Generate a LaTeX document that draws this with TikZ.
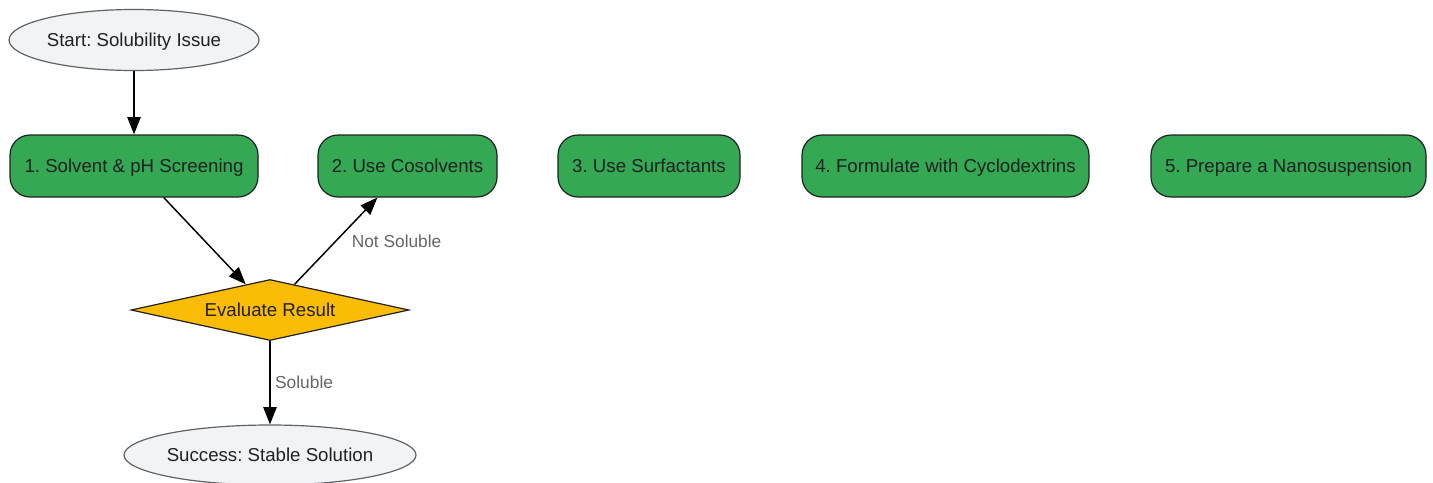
\documentclass[tikz,border=0pt]{standalone}
\usepackage{fontspec}
\setmainfont{Liberation Sans}
\usetikzlibrary{arrows.meta,shapes.geometric}
\frenchspacing

\definecolor{stepgreen}{HTML}{34A853}
\definecolor{checkyellow}{HTML}{FBBC05}
\definecolor{termfill}{HTML}{F1F3F4}
\definecolor{termline}{HTML}{5F6368}
\definecolor{inkdark}{HTML}{202124}
\definecolor{labelgray}{HTML}{666666}

\begin{document}
\begin{tikzpicture}[x=0.75pt,y=-0.75pt,>={Triangle[length=13pt,width=10pt]},
    every node/.style={font=\fontsize{14}{16}\selectfont,text=inkdark,text height=10pt,text depth=0pt},
    term/.style={ellipse,draw=termline,fill=termfill,line width=0.9pt,inner sep=0pt},
    stepbox/.style={rectangle,rounded corners=15pt,draw=inkdark,fill=stepgreen,
      line width=0.9pt,minimum height=46.5pt,inner sep=0pt},
    check/.style={diamond,aspect=4.56,draw=inkdark,fill=checkyellow,line width=0.9pt,inner sep=0pt,
      minimum width=208.5pt,minimum height=45.75pt},
    lbl/.style={font=\fontsize{13}{15}\selectfont,text=labelgray,text height=9.3pt},
    link/.style={->,line width=1.1pt}]
      \useasboundingbox (0,0) rectangle (1433,482);

      \node[term,minimum width=187.5pt,minimum height=45.75pt] (start) at (134,40) {Start: Solubility Issue};

      \node[stepbox,minimum width=186pt] (s1) at (134,166) {1. Solvent \& pH Screening};
      \node[stepbox,minimum width=134.25pt] (s2) at (407.5,166) {2. Use Cosolvents};
      \node[stepbox,minimum width=136.5pt] (s3) at (649,166) {3. Use Surfactants};
      \node[stepbox,minimum width=215.25pt] (s4) at (945.5,166) {4. Formulate with Cyclodextrins};
      \node[stepbox,minimum width=206.25pt] (s5) at (1288.5,166) {5. Prepare a Nanosuspension};

      \node[check] (eval) at (270,310) {Evaluate Result};

      \node[term,minimum width=217.5pt,minimum height=45pt] (done) at (270,455) {Success: Stable Solution};

      \path[link]
      (start) edge (s1)
      (s1) edge (eval)
      (eval) edge node[lbl,anchor=west,pos=0.5,xshift=8pt] {Not Soluble} (s2)
      (eval) edge node[lbl,right,pos=0.5] {Soluble} (done)
      ;
    \end{tikzpicture}
\end{document}
